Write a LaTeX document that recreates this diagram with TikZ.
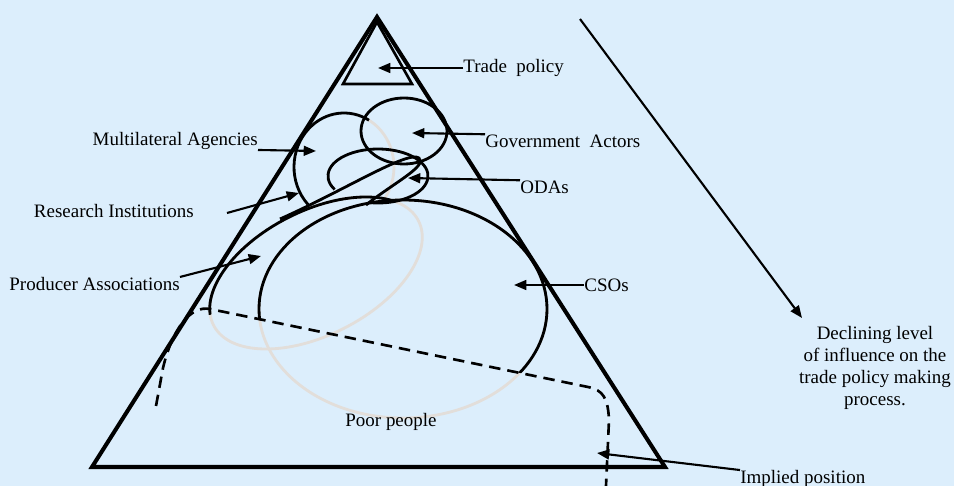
\documentclass[tikz,border=0pt]{standalone}
\usepackage{fontspec}
\setmainfont{Liberation Serif}
\usepackage{xcolor}
\usepackage{tikz}
\usetikzlibrary{arrows.meta}

\definecolor{paneblue}{RGB}{220,238,252}
\definecolor{hiddengray}{RGB}{226,222,218}

\begin{document}
\begin{tikzpicture}[x=0.02cm, y=-0.02cm,
    every node/.style={inner sep=0pt, font=\fontsize{10.8}{13}\selectfont},
    frame/.style={line width=2.3pt},
    actor/.style={line width=1.6pt},
    hidden/.style={hiddengray, line width=1.6pt},
    pointer/.style={line width=1.2pt, -{Triangle[length=7pt,width=5.6pt]}},
    border/.style={line width=1.5pt, dash pattern=on 6.5pt off 4pt}]
\fill[paneblue] (0,0) rectangle (954,486);
\useasboundingbox (0,0) rectangle (954,486);

\draw[hidden] (403,309) ellipse [x radius=144, y radius=109];
\draw[hidden, rotate around={27:(316,273)}] (316,273) ellipse [x radius=115, y radius=62];
\draw[hidden] (344,167) ++(295:50 and 54) arc [start angle=295, end angle=400, x radius=50, y radius=54];

\begin{scope}
\clip (150,0) -- (150,309) -- (210,309) -- (593,388) -- (700,388) -- (700,0) -- cycle;
\draw[actor] (403,309) ellipse [x radius=144, y radius=109];
\end{scope}
\begin{scope}
\clip (210,315) -- (391,200) -- (391,100) -- (150,100) -- (150,315) -- cycle;
\draw[actor, rotate around={27:(316,273)}] (316,273) ellipse [x radius=115, y radius=62];
\end{scope}
\draw[actor] (344,167) ++(136:50 and 54) arc [start angle=136, end angle=300, x radius=50, y radius=54];
\draw[actor] (404,131) ellipse [x radius=43, y radius=33];
\draw[actor] (378,176) ++(150:50 and 27) arc [start angle=150, end angle=460, x radius=50, y radius=27];
\draw[actor] (280,219) .. controls (345,190) and (408,150) .. (419,158)
    .. controls (428,166) and (392,184) .. (366,205);

\draw[border] (156,406) -- (163,368) .. controls (172,330) and (190,305) .. (210,309)
    -- (588,387) .. controls (603,390) and (608,398) .. (609,420) -- (606,486);

\draw[frame] (377,17) -- (665,467) -- (92,467) -- cycle;
\draw[line width=1.5pt] (377,22) -- (412,84) -- (343,84) -- cycle;

\node[anchor=west] (tp) at (463,68) {Trade\ \ policy};
\node[anchor=west] (ga) at (485,141) {Government\ \ Actors};
\node[anchor=west] (od) at (520,187) {ODAs};
\node[anchor=east] (ma) at (258,141) {Multilateral Agencies};
\node[anchor=east] (ri) at (194,211) {Research Institutions};
\node[anchor=east] (pa) at (180,284) {Producer Associations};
\node[anchor=west] (cs) at (584,285) {CSOs};
\node (pp) at (391,422) {Poor people};
\node[anchor=west] (ip) at (740,479) {Implied position};
\node[align=center, font=\fontsize{10.8}{12.5}\selectfont] (dl) at (875,368) {Declining level\\of influence on the\\trade policy making\\process.};

\coordinate (tp-tip) at (378,68);
\coordinate (ga-tip) at (412,133);
\coordinate (od-tip) at (408,178);
\coordinate (ma-tip) at (316,151);
\coordinate (ri-tail) at (227,213);
\coordinate (ri-tip) at (299,193);
\coordinate (pa-tip) at (261,256);
\coordinate (cs-tip) at (514,285);
\coordinate (ip-tip) at (597,453);
\coordinate (dl-tail) at (580,19);
\coordinate (dl-tip) at (802,318);

\draw[pointer] (tp.west) -- (tp-tip);
\draw[pointer] (ga.north west) -- (ga-tip);
\draw[pointer] (od.north west) -- (od-tip);
\draw[pointer] (ma.south east) -- (ma-tip);
\draw[pointer] (ri-tail) -- (ri-tip);
\draw[pointer] (pa.north east) -- (pa-tip);
\draw[pointer] (cs.west) -- (cs-tip);
\draw[pointer] (ip.north west) -- (ip-tip);
\draw[pointer] (dl-tail) -- (dl-tip);
\end{tikzpicture}
\end{document}
